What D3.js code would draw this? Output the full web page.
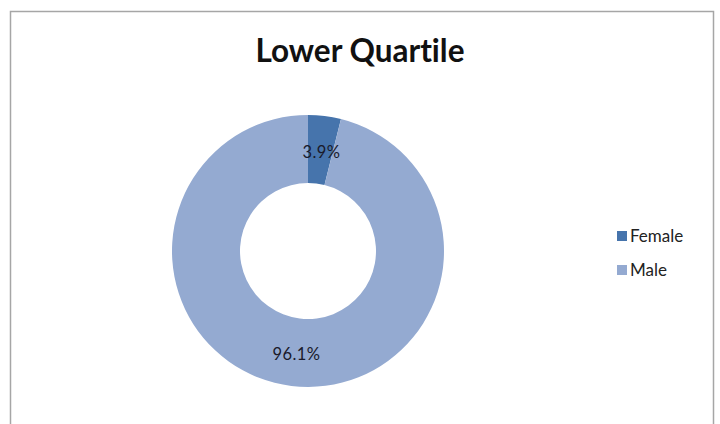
<!DOCTYPE html>
<html><head><meta charset="utf-8">
<script src="https://cdn.jsdelivr.net/npm/d3@7"></script>
<style>body{margin:0;background:#fff}svg{display:block}text{font-variant-ligatures:none;font-feature-settings:"liga" 0}</style>
</head><body>
<svg id="c" width="720" height="424"></svg>
<script>
const categories = ["Female", "Male"];
const values = [3.9, 96.1];
const labels = ["3.9%", "96.1%"];
const colors = ["#4674AC", "#94AAD1"];
const title = "Lower Quartile";

const svg = d3.select("#c");
svg.append("rect").attr("x",10.5).attr("y",11.5).attr("width",703).attr("height",430)
  .attr("fill","#fff").attr("stroke","#a6a6a6").attr("stroke-width",1.5);

svg.append("text").attr("x",360).attr("y",62).attr("text-anchor","middle")
  .attr("font-family","Lato, 'Open Sans', sans-serif").attr("font-weight","bold")
  .attr("font-size",31.5).attr("fill","#111").text(title);

const cx = 308, cy = 251, R = 136, r = 68;
const pie = d3.pie().sort(null).value(d=>d);
const arc = d3.arc().innerRadius(r).outerRadius(R);
const g = svg.append("g").attr("transform",`translate(${cx},${cy})`);
const arcs = pie(values);
g.selectAll("path").data(arcs).join("path").attr("d",arc).attr("fill",(d,i)=>colors[i]);
g.selectAll("text").data(arcs).join("text")
  .attr("transform",d=>{const c=arc.centroid(d);return `translate(${c[0]+1},${c[1]+8})`;})
  .attr("text-anchor","middle").attr("font-family","Lato, 'Open Sans', sans-serif")
  .attr("font-size",16.5).attr("letter-spacing",0.4).attr("fill","#1a1a2a").text((d,i)=>labels[i]);

const lg = svg.append("g");
const ly = d3.scalePoint().domain(categories).range([236,270]);
categories.forEach((c,i)=>{
  lg.append("rect").attr("x",617).attr("y",ly(c)-5).attr("width",10).attr("height",10).attr("fill",colors[i]);
  lg.append("text").attr("x",630).attr("y",ly(c)+6).attr("font-family","Lato, 'Open Sans', sans-serif")
    .attr("font-size",17).attr("fill","#222").text(c);
});
</script>
</body></html>
